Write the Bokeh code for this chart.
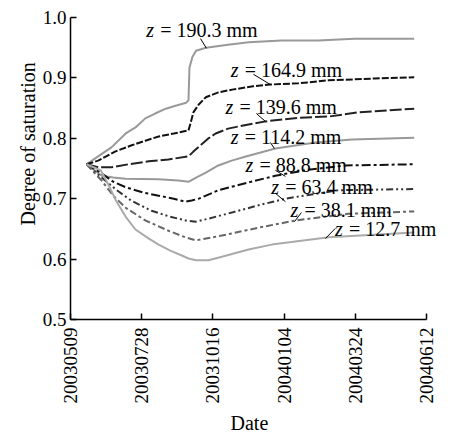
from math import pi
from bokeh.plotting import figure
from bokeh.models import FixedTicker, Range1d, Title
from bokeh.core.properties import value
from bokeh.embed import file_html
from bokeh.resources import INLINE

# ---- axis ticks (x = days since 2003-05-09) ----
x_tick_days = [0, 80, 160, 240, 320, 400]
x_tick_labels = ["20030509", "20030728", "20031016", "20040104", "20040324", "20040612"]
y_ticks = [0.5, 0.6, 0.7, 0.8, 0.9, 1.0]
y_tick_labels = ["0.5", "0.6", "0.7", "0.8", "0.9", "1.0"]
x_title = "Date"
y_title = "Degree of saturation"

# ---- series (day, degree of saturation) ----
days_190 = [18, 31, 46, 62, 73, 84, 95, 107, 118, 130, 132.5, 133.6, 137, 141, 152, 177, 200, 237, 278, 319, 386]
sat_190 = [0.757, 0.770, 0.785, 0.808, 0.818, 0.833, 0.841, 0.849, 0.854, 0.859, 0.863, 0.917, 0.935, 0.945, 0.950, 0.955, 0.959, 0.962, 0.962, 0.965, 0.965]

days_165 = [18, 31, 50, 68, 84, 99, 116, 132.5, 135, 138, 144, 152, 166, 183, 205, 224, 256, 290, 342, 386]
sat_165 = [0.757, 0.763, 0.778, 0.788, 0.796, 0.803, 0.808, 0.813, 0.826, 0.843, 0.856, 0.868, 0.876, 0.881, 0.886, 0.889, 0.891, 0.896, 0.899, 0.901]

days_140 = [18, 31, 46, 65, 88, 110, 132.5, 138, 144, 155, 163, 177, 200, 219, 256, 290, 323, 386]
sat_140 = [0.757, 0.752, 0.752, 0.757, 0.762, 0.765, 0.770, 0.778, 0.786, 0.800, 0.808, 0.816, 0.823, 0.828, 0.834, 0.836, 0.843, 0.849]

days_114 = [18, 35, 48, 62, 99, 121, 132.5, 141, 152, 166, 181, 197, 230, 275, 316, 386]
sat_114 = [0.757, 0.738, 0.735, 0.733, 0.732, 0.730, 0.728, 0.735, 0.743, 0.755, 0.763, 0.770, 0.783, 0.793, 0.798, 0.801]

days_89 = [18, 35, 48, 62, 82, 99, 116, 129, 136, 144, 166, 200, 230, 267, 309, 386]
sat_89 = [0.757, 0.742, 0.728, 0.719, 0.710, 0.705, 0.700, 0.695, 0.697, 0.700, 0.714, 0.727, 0.738, 0.748, 0.755, 0.757]

days_63 = [18, 35, 52, 68, 91, 110, 129, 141, 155, 181, 211, 241, 301, 386]
sat_63 = [0.757, 0.735, 0.714, 0.697, 0.680, 0.671, 0.664, 0.662, 0.667, 0.677, 0.689, 0.700, 0.714, 0.716]

days_38 = [18, 35, 48, 62, 84, 110, 129, 141, 170, 211, 253, 312, 386]
sat_38 = [0.757, 0.730, 0.705, 0.685, 0.664, 0.647, 0.636, 0.631, 0.639, 0.652, 0.664, 0.675, 0.679]

days_13 = [18, 34, 43, 51, 62, 73, 88, 99, 112, 125, 132.5, 141, 155, 170, 200, 226, 290, 386]
sat_13 = [0.757, 0.747, 0.722, 0.697, 0.670, 0.649, 0.634, 0.624, 0.614, 0.606, 0.601, 0.598, 0.598, 0.604, 0.616, 0.624, 0.636, 0.644]

depth_texts = ["= 190.3 mm", "= 164.9 mm", "= 139.6 mm", "= 114.2 mm",
               "= 88.8 mm", "= 63.4 mm", "= 38.1 mm", "= 12.7 mm"]

series = [
    (days_190, sat_190, "#999999", "solid"),
    (days_165, sat_165, "#111111", "7 2"),
    (days_140, sat_140, "#222222", "12 3"),
    (days_114, sat_114, "#999999", "solid"),
    (days_89, sat_89, "#111111", "9 3 3 3"),
    (days_63, sat_63, "#333333", "7 3 2 3 2 3"),
    (days_38, sat_38, "#666666", "7 3 3 3"),
    (days_13, sat_13, "#aaaaaa", "solid"),
]

# label anchors (start of "z", baseline) and leader lines, in data units
label_day = [85, 180, 174, 180, 196.5, 225.5, 247, 297]
label_sat = [0.979, 0.913, 0.852, 0.802, 0.756, 0.720, 0.682, 0.650]
lead_x0 = [146, 205.4, 208.8, 224.5, 230.1, 230.1, 259.3, 297.5]
lead_y0 = [0.965, 0.906, 0.841, 0.793, 0.747, 0.709, 0.677, 0.651]
lead_x1 = [152.7, 224.5, 218.9, 229.0, 241.4, 241.4, 251.5, 286.3]
lead_y1 = [0.949, 0.889, 0.828, 0.783, 0.737, 0.695, 0.662, 0.634]

FONT = "Liberation Serif"

p = figure(width=452, height=437, output_backend="svg", toolbar_location=None,
           x_range=Range1d(0, 429), y_range=Range1d(0.5, 1.0),
           min_border_left=70, min_border_right=0, min_border_top=17, min_border_bottom=118)
p.outline_line_color = None
p.xgrid.visible = False
p.ygrid.visible = False
p.background_fill_color = "white"
p.border_fill_color = "white"

for ax in (p.xaxis[0], p.yaxis[0]):
    ax.axis_line_color = "black"
    ax.axis_line_width = 1.5
    ax.major_tick_line_color = "black"
    ax.major_tick_line_width = 1.5
    ax.major_tick_in = 6
    ax.major_tick_out = 0
    ax.minor_tick_line_color = None
    ax.major_label_text_font = FONT
    ax.major_label_text_font_size = "19px"
    ax.major_label_text_color = "black"

p.xaxis.bounds = (0, 400)
p.xaxis.ticker = FixedTicker(ticks=x_tick_days)
p.xaxis.major_label_overrides = dict(zip(x_tick_days, x_tick_labels))
p.xaxis.major_label_orientation = pi / 2
p.xaxis.major_label_standoff = 8

p.yaxis.ticker = FixedTicker(ticks=y_ticks)
p.yaxis.major_label_overrides = dict(zip(y_ticks, y_tick_labels))
p.yaxis.major_label_standoff = 4

# axis titles as side titles (shifted to match the reference)
p.add_layout(Title(text=y_title, align="left", offset=94, standoff=2,
                   text_font=FONT, text_font_size="20px", text_font_style="normal",
                   text_color="black"), "left")
p.add_layout(Title(text=x_title, align="left", offset=160, standoff=6,
                   text_font=FONT, text_font_size="20px", text_font_style="normal",
                   text_color="black"), "below")

for d, s, c, dash in series:
    p.line(d, s, line_color=c, line_width=2, line_dash=dash)

p.segment(lead_x0, lead_y0, lead_x1, lead_y1, line_color="black", line_width=1)

p.text(label_day, label_sat, text=["z"] * len(label_day), text_font=value(FONT),
       text_font_style="italic", text_font_size="20px", text_color="black",
       text_align="left", text_baseline="alphabetic")
p.text(label_day, label_sat, text=depth_texts, x_offset=14, text_font=value(FONT),
       text_font_size="20px", text_color="black",
       text_align="left", text_baseline="alphabetic")

open("out.html", "w").write(file_html(p, INLINE))
